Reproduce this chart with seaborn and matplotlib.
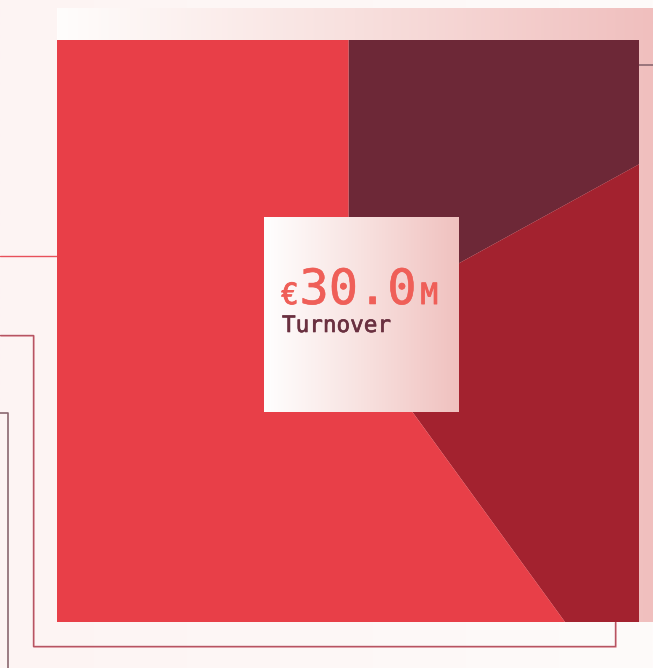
import numpy as np
import matplotlib
matplotlib.use("Agg")
import matplotlib.pyplot as plt
import matplotlib.patheffects as pe
import seaborn as sns
from matplotlib.colors import LinearSegmentedColormap

# ---- data ----
segments = ["Segment A", "Segment B", "Segment C"]
values = [5.1, 6.9, 18.0]          # € millions
seg_colors = ["#6d2837", "#a3222f", "#e83f48"]
total_label = "€30.0M"
kpi_label = "Turnover"

sns.set_theme(style="white")
plt.rcParams["font.family"] = ["DejaVu Sans Mono", "DejaVu Sans"]

W, H = 653, 668
fig = plt.figure(figsize=(W / 100, H / 100), dpi=100)
fig.patch.set_facecolor("#fdf6f5")

# ---- background layer (pixel coordinates, y down) ----
bg = fig.add_axes([0, 0, 1, 1], zorder=0)
bg.set_xlim(0, W)
bg.set_ylim(H, 0)
bg.axis("off")

base = LinearSegmentedColormap.from_list("base", ["#fdf4f3", "#fefbfa"])
bg.imshow(np.linspace(0, 1, 256).reshape(1, -1), cmap=base, aspect="auto",
          extent=(0, W, H, 0), zorder=0)
band = LinearSegmentedColormap.from_list("band", ["#fffdfc", "#f8e0de", "#f0bfbe"])
bg.imshow(np.linspace(0, 1, 256).reshape(1, -1), cmap=band, aspect="auto",
          extent=(57, W, 622, 8), zorder=1)

# decorative lines
bg.plot([0, 57], [256, 256], color="#e8505a", lw=1.0, zorder=2)
bg.plot([1, 34, 34, 616, 616], [336, 336, 647, 647, 622], color="#eab0b6", lw=1.3, zorder=2)
bg.plot([0, 33, 33, 615, 615], [335, 335, 646, 646, 622], color="#b65462", lw=1.0, zorder=3)
bg.plot([0, 8, 8], [413, 413, H], color="#8a6870", lw=1.2, zorder=2)
bg.plot([636, W], [65, 65], color="#8a6870", lw=1.2, zorder=2)
bg.set_xlim(0, W)
bg.set_ylim(H, 0)

# ---- square pie ----
ax = fig.add_axes([57 / W, 46 / H, 582 / W, 582 / H], zorder=1)
wedges, _ = ax.pie(values, colors=sns.color_palette(seg_colors), startangle=90,
                   counterclock=False, radius=700, wedgeprops=dict(linewidth=0))
ax.set_aspect("auto")
ax.set_xlim(-291.5, 290.5)
ax.set_ylim(-298, 284)
ax.axis("off")
for w in wedges:
    w.set_clip_on(True)
    w.set_clip_box(ax.bbox)

# ---- centre KPI card ----
ov = fig.add_axes([0, 0, 1, 1], zorder=2)
ov.set_xlim(0, W)
ov.set_ylim(H, 0)
ov.axis("off")
ov.patch.set_alpha(0)
card = LinearSegmentedColormap.from_list("card", ["#ffffff", "#f8e2e0", "#f0c1bf"])
ov.imshow(np.linspace(0, 1, 256).reshape(1, -1), cmap=card, aspect="auto",
          extent=(264, 459, 412, 217), zorder=1)
ov.set_xlim(0, W)
ov.set_ylim(H, 0)

num_color = "#ef5f58"
lab_color = "#6a3040"
fx_num = [pe.withStroke(linewidth=0.4, foreground=num_color)]
fx_small = [pe.withStroke(linewidth=0.7, foreground=num_color)]
fx_lab = [pe.withStroke(linewidth=0.45, foreground=lab_color)]

t1 = ov.text(281, 304, total_label[0], fontsize=21, color=num_color, va="baseline",
             ha="left", path_effects=fx_small)
fig.canvas.draw()
r = fig.canvas.get_renderer()
w1 = t1.get_window_extent(r).width
t2 = ov.text(281 + w1 + 1, 304, total_label[1:-1], fontsize=35, color=num_color,
             va="baseline", ha="left", path_effects=fx_num)
fig.canvas.draw()
w2 = t2.get_window_extent(r).width
ov.text(281 + w1 + w2 + 5, 304, total_label[-1], fontsize=21, color=num_color,
        va="baseline", ha="left", path_effects=fx_small)
ov.text(282, 332, kpi_label, fontsize=16.3, color=lab_color, va="baseline", ha="left",
        path_effects=fx_lab)

fig.savefig("out.png", dpi=100, facecolor=fig.get_facecolor())
